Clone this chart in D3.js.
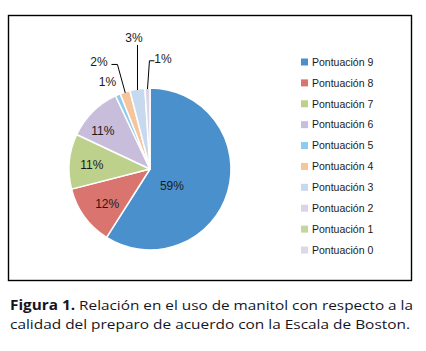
<!DOCTYPE html>
<html><head><meta charset="utf-8">
<script src="https://cdn.jsdelivr.net/npm/d3@7"></script>
<style>html,body{margin:0;padding:0;background:#fff;}svg{display:block;}</style>
</head><body>
<script>
const categories = ["Pontuación 9","Pontuación 8","Pontuación 7","Pontuación 6","Pontuación 5","Pontuación 4","Pontuación 3","Pontuación 2","Pontuación 1","Pontuación 0"];
const values = [59, 12, 11, 11, 1, 2, 3, 1, 0, 0];
const sliceColors = ["#4a90cd","#d9746f","#bdd18c","#c9bddc","#8ecbef","#f6c59b","#c6d9ee","#dbd3e8","#c3d69b","#ddd7e8"];
const captionBold = "Figura 1.";
const captionLine1 = " Relación en el uso de manitol con respecto a la";
const captionLine2 = "calidad del preparo de acuerdo con la Escala de Boston.";

const W = 426, H = 351;
const svg = d3.select("body").append("svg").attr("width", W).attr("height", H);

// frame
svg.append("rect").attr("x", 8.5).attr("y", 15.5).attr("width", 403).attr("height", 265)
  .attr("fill", "#fff").attr("stroke", "#000").attr("stroke-width", 1.4);

const cx = 150, cy = 169, R = 81;
const color = d3.scaleOrdinal().domain(categories).range(sliceColors);
const pie = d3.pie().sort(null).value(d => d.v).startAngle(0).endAngle(2 * Math.PI);
const data = categories.map((c, i) => ({c, v: values[i]}));
const arcs = pie(data);
const arc = d3.arc().innerRadius(0).outerRadius(R);

const g = svg.append("g").attr("transform", `translate(${cx},${cy})`);
g.selectAll("path").data(arcs.filter(a => a.data.v > 0)).join("path")
  .attr("d", arc).attr("fill", d => color(d.data.c))
  .attr("stroke", "#fff").attr("stroke-width", 1.5).attr("stroke-linejoin", "round");

// label layout (radius factor, angle nudge in degrees, leader?)
const layout = {
  0: {r: 0.34, da: 21},
  1: {r: 0.68, da: -3},
  2: {r: 0.72, da: -1.5},
  3: {r: 0.75, da: -6},
  4: {r: 1.2, da: -2.6},
  5: {r: 1.47, da: -7.4, leader: true},
  6: {r: 1.63, da: 2, leader: true},
  7: {r: 1.37, da: 8.5, leader: true}
};
const pt = (ang, r) => [Math.sin(ang) * r, -Math.cos(ang) * r];

arcs.forEach((a, i) => {
  if (a.data.v <= 0) return;
  const L = layout[i] || {r: 0.7, da: 0};
  const mid = (a.startAngle + a.endAngle) / 2;
  const [lx, ly] = pt(mid + L.da * Math.PI / 180, R * L.r);
  const t = g.append("text").attr("x", lx).attr("y", ly).attr("dy", "0.36em")
    .attr("text-anchor", "middle")
    .style("font-family", "'Liberation Sans', Arial, sans-serif").style("font-size", "12px")
    .attr("fill", "#1a1a1a").text(a.data.v + "%");
  if (L.leader) {
    const [px, py] = pt(mid, R - 1);
    const hw = 7.5;
    let pts;
    if (Math.abs(lx - px) < 5) {
      pts = [[px, ly + 7], [px, py]];
    } else if (lx < px) {
      const sx = lx + hw + 5;
      pts = [[sx, ly + 3], [sx + 6, ly + 3], [px, py]];
    } else {
      const sx = lx - hw - 1;
      pts = [[sx, ly + 2], [sx - 5, ly + 2], [px, py]];
    }
    g.append("path").attr("d", d3.line()(pts)).attr("fill", "none")
      .attr("stroke", "#000").attr("stroke-width", 1);
  }
});

// legend
const legY = d3.scalePoint().domain(categories).range([62, 250]);
const leg = svg.append("g");
categories.forEach(c => {
  const y = legY(c);
  leg.append("rect").attr("x", 301).attr("y", y - 3.5).attr("width", 7).attr("height", 7).attr("fill", color(c));
  leg.append("text").attr("x", 312).attr("y", y).attr("dy", "0.36em")
    .style("font-family", "'Liberation Sans', Arial, sans-serif").style("font-size", "10.5px")
    .attr("fill", "#1a1a1a").text(c);
});

// caption
const cap = svg.append("g").style("font-family", "'Open Sans', 'Noto Sans', sans-serif").style("font-size", "13.5px").attr("fill", "#15151f");
const t1 = cap.append("text").attr("x", 10).attr("y", 310).attr("textLength", 403).attr("lengthAdjust", "spacingAndGlyphs");
t1.append("tspan").style("font-weight", "bold").text(captionBold);
t1.append("tspan").text(captionLine1);
cap.append("text").attr("x", 10).attr("y", 329).attr("textLength", 400).attr("lengthAdjust", "spacingAndGlyphs").text(captionLine2);
</script>
</body></html>
